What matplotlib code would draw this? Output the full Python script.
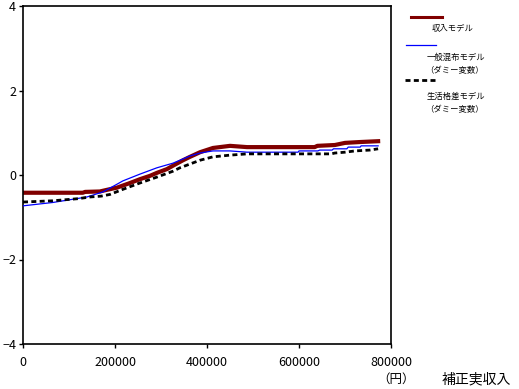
import matplotlib
matplotlib.use("Agg")
import matplotlib.pyplot as plt
from matplotlib.lines import Line2D

plt.rcParams['font.family'] = ['Noto Sans CJK JP', 'DejaVu Sans']

# 収入モデル
red_x = [0, 130000, 135000, 167000, 183000, 204000, 230000, 254000, 276000, 291000, 313000,
         326000, 348000, 363000, 385000, 413000, 450000, 487000, 634000, 640000, 678000,
         700000, 732000, 772000]
red_y = [-0.42, -0.42, -0.40, -0.39, -0.35, -0.30, -0.20, -0.10, -0.02, 0.05, 0.14,
         0.22, 0.35, 0.43, 0.54, 0.64, 0.69, 0.66, 0.66, 0.69, 0.71,
         0.76, 0.78, 0.80]

# 一般混布モデル (ダミー変数)
blue_x = [0, 65000, 139000, 174000, 189000, 204000, 217000, 254000, 291000, 326000, 363000,
          385000, 413000, 450000, 487000, 598000, 600000, 641000, 645000, 672000,
          675000, 704000, 707000, 733000, 735000, 772000]
blue_y = [-0.73, -0.65, -0.52, -0.40, -0.31, -0.22, -0.14, 0.02, 0.17, 0.28, 0.45,
          0.52, 0.57, 0.57, 0.54, 0.54, 0.57, 0.57, 0.59, 0.59,
          0.62, 0.62, 0.66, 0.66, 0.69, 0.69]

# 生活格差モデル (ダミー変数)
black_x = [0, 65000, 120000, 146000, 170000, 189000, 217000, 254000, 291000, 326000, 341000,
           363000, 385000, 413000, 450000, 487000, 670000, 678000, 700000, 722000,
           754000, 772000]
black_y = [-0.64, -0.61, -0.56, -0.52, -0.50, -0.46, -0.34, -0.19, -0.05, 0.09, 0.17,
           0.26, 0.35, 0.43, 0.47, 0.50, 0.50, 0.52, 0.54, 0.57, 0.59, 0.62]

x_ticks = [0, 200000, 400000, 600000, 800000]
y_ticks = [-4, -2, 0, 2, 4]

fig = plt.figure(figsize=(5.19, 3.89), dpi=100)
ax = fig.add_axes([23/519, 1-344/389, (391-23)/519, (344-6)/389])

ax.plot(blue_x, blue_y, color='#0000ff', lw=0.9, zorder=3)
ax.plot(red_x, red_y, color='#800000', lw=3.0, zorder=2)
ax.plot(black_x, black_y, color='black', lw=2.0, dashes=(1.8, 1.2), zorder=4)

ax.set_xlim(0, 800000)
ax.set_ylim(-4, 4)
ax.set_xticks(x_ticks)
ax.set_xticklabels([str(v) for v in x_ticks])
ax.set_yticks(y_ticks)
ax.set_yticklabels(['\u22124', '\u22122', '0', '2', '4'])
ax.tick_params(direction='out', length=3, width=1, labelsize=9, pad=2)
ax.tick_params(axis='x', pad=6)
for s in ax.spines.values():
    s.set_linewidth(1.2)

def fx(px):
    return px / 519
def fy(py):
    return 1 - py / 389

fig.add_artist(Line2D([fx(411), fx(442)], [fy(17), fy(17)], color='#800000', lw=2.2))
fig.text(fx(432), fy(28), '収入モデル', fontsize=6, va='center', ha='left')
fig.add_artist(Line2D([fx(406), fx(436)], [fy(45), fy(45)], color='#0000ff', lw=0.9))
fig.text(fx(427), fy(57), '一般混布モデル', fontsize=6, va='center', ha='left')
fig.text(fx(425), fy(71), '（ダミー変数）', fontsize=6, va='center', ha='left')
fig.add_artist(Line2D([fx(405), fx(435)], [fy(80), fy(80)], color='black', lw=2.0, dashes=(1.8, 1.2)))
fig.text(fx(427), fy(96), '生活格差モデル', fontsize=6, va='center', ha='left')
fig.text(fx(425), fy(110), '（ダミー変数）', fontsize=6, va='center', ha='left')

fig.text(fx(396), fy(379), '（円）', fontsize=9, va='center', ha='center')
fig.text(fx(476), fy(379), '補正実収入', fontsize=10, va='center', ha='center')

fig.savefig('out.png', dpi=100)
